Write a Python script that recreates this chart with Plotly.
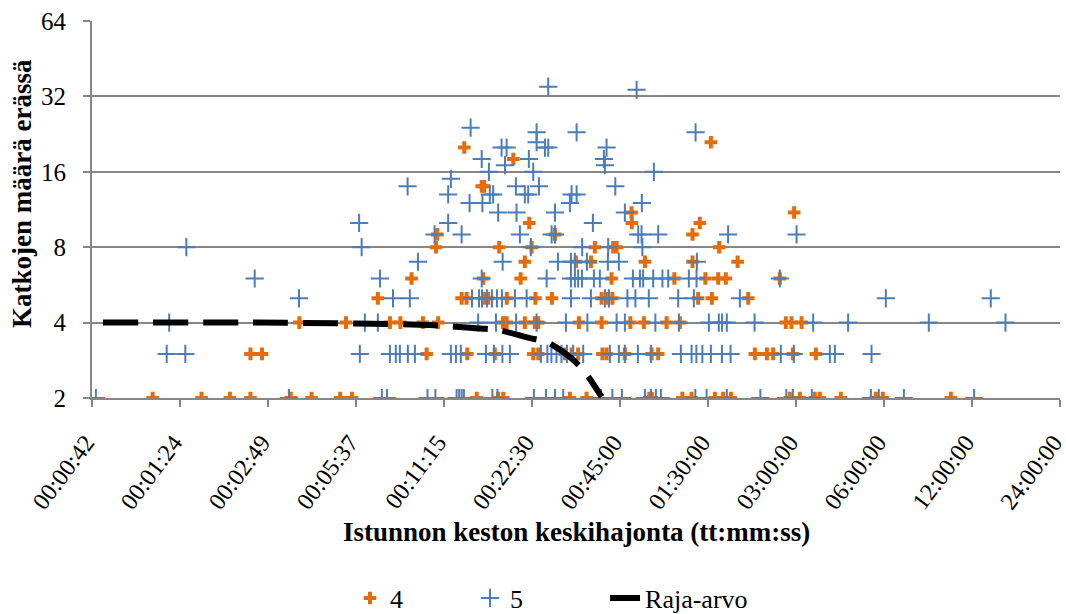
import plotly.graph_objects as go

# ---------------- data ----------------
# x: session duration standard deviation in seconds, y: number of breaks per batch
s4_x = [68, 100, 125, 147, 202, 238, 298, 327, 874, 1035, 1077, 1821, 2076, 3402, 3475, 4417, 4749, 5708, 6091, 6475, 10298, 11146, 12539, 13046, 15390, 20272, 21427, 36612,
        147, 161, 589, 811, 1008, 1364, 1419, 1751, 1845, 1943, 2353, 2431, 2808, 3467, 3651, 7819, 8597, 9029, 10546, 12647,
        216, 312, 441, 479, 572, 645, 1075, 1106, 1277, 1382, 1419, 1955, 2338, 2932, 3262, 3901, 4331, 9979, 10431, 11297,
        401, 776, 807, 932, 956, 1108, 1388, 1581, 2338, 2456, 2545, 5001, 5573, 7420,
        523, 920, 1235, 2528, 4147, 5295, 5859, 6221, 9520,
        1277, 1909, 2149, 3289, 4785, 6826,
        634, 1043, 1347, 2217, 2561, 2631, 5903,
        640, 1619, 4785,
        1322, 2967, 5068,
        2960, 10654,
        909, 927,
        1166,
        792,
        5529]
s4_y = ([2] * 28 + [3] * 20 + [4] * 20 + [5] * 14 + [6] * 9 + [7] * 6 + [8] * 7 + [9] * 3 + [10] * 3
        + [11] * 2 + [14] * 2 + [18] + [20] + [21])

s5_x = [43.5, 199, 414, 431, 593, 631, 746, 761, 776, 790, 989, 1029, 1371, 1508, 1619, 1727, 2325, 2545, 2743, 3289, 3448, 3586, 3729, 4892, 5346, 6269, 8165, 10017, 10546, 12247, 19505, 20758, 25294, 44000,
        76, 88, 348, 441, 462, 477, 508, 537, 713, 742, 771, 940, 1001, 1070, 1135, 1449, 1525, 1574, 1638, 1704, 1779, 1869, 2022, 2495, 2678, 2808, 3111, 3448, 4366, 4749, 4932, 5171, 5529, 6032, 6458, 9596, 10627, 14116, 14688, 19602,
        77.5, 362, 401, 884, 1017, 1192, 1401, 1765, 2090, 2631, 2808, 3571, 4299, 5443, 5886, 6039, 6269, 7801, 12378, 16303, 30781, 56330,
        215.5, 452, 516, 842, 890, 911, 947, 985, 1025, 1066, 1181, 1295, 1836, 2149, 2399, 2476, 2865, 3051, 3391, 4274, 4836, 6950, 21946, 50155,
        152, 408, 909, 1516, 1836, 1894, 1943, 2002, 2200, 2306, 2992, 3162, 3243, 3510, 3775, 3950, 4649, 4938, 9520,
        550, 1072, 1657, 1836, 1894, 2082, 2456, 2678, 4952,
        88.7, 353, 1339, 2006, 2462, 3223,
        627, 776, 1228, 1577, 1619, 3119, 3202, 3651, 6334, 10860,
        346, 698, 2183,
        1035, 1196, 1619, 2808,
        826, 914, 1821, 3210,
        698, 969, 995, 1277, 1311, 1845, 1920,
        507, 1190, 1427, 2604,
        713,
        962, 1364, 3529,
        1092, 2399,
        909, 1318, 2380,
        1063, 1106, 1496, 1535, 2431,
        1401,
        1401, 1920, 4901,
        833,
        3080,
        1535]
s5_y = ([2] * 34 + [3] * 40 + [4] * 22 + [5] * 24 + [6] * 19 + [7] * 9 + [8] * 6 + [9] * 10 + [10] * 3
        + [11] * 4 + [12] * 4 + [13] * 7 + [14] * 4 + [15] + [16] * 3 + [17] * 2 + [18] * 3 + [20] * 5
        + [21] + [23] * 3 + [24] + [34] + [35])

raja_x = [46, 150, 337, 604, 896, 1043, 1328, 1516, 1845, 2049, 2338]
raja_y = [4.0, 4.0, 3.97, 3.91, 3.79, 3.73, 3.47, 3.35, 2.88, 2.54, 2.02]

x_tickvals = [42.1875, 84.375, 168.75, 337.5, 675, 1350, 2700, 5400, 10800, 21600, 43200, 86400]
x_ticktext = ["00:00:42", "00:01:24", "00:02:49", "00:05:37", "00:11:15", "00:22:30",
              "00:45:00", "01:30:00", "03:00:00", "06:00:00", "12:00:00", "24:00:00"]
y_tickvals = [2, 4, 8, 16, 32, 64]
y_ticktext = ["2", "4", "8", "16", "32", "64"]

FONT = "Liberation Serif, Times New Roman, Times, serif"
GRID = "#878787"
FS = 25
LEG_Y = 0.026

fig = go.Figure()
fig.add_trace(go.Scatter(
    x=s4_x, y=s4_y, mode="markers", name="4", legend="legend",
    marker=dict(symbol="cross-thin", size=9, color="#E46C0A",
                line=dict(color="#E46C0A", width=4))))
fig.add_trace(go.Scatter(
    x=s5_x, y=s5_y, mode="markers", name="5", legend="legend2",
    marker=dict(symbol="cross-thin", size=13, color="#4A7EBB",
                line=dict(color="#4A7EBB", width=2))))
fig.add_trace(go.Scatter(
    x=raja_x, y=raja_y, mode="lines", name="Raja-arvo", legend="legend3",
    line=dict(color="black", width=6, dash="35px,15px", shape="spline", smoothing=0.8)))

leg_common = dict(orientation="h", xanchor="left", yref="container", y=LEG_Y, yanchor="middle",
                  font=dict(family=FONT, size=26), itemsizing="trace", bgcolor="rgba(0,0,0,0)")

fig.update_layout(
    width=1066, height=614,
    margin=dict(l=92, r=6, t=21, b=216),
    paper_bgcolor="white", plot_bgcolor="white",
    font=dict(family=FONT, size=FS, color="black"),
    showlegend=True,
    legend=dict(x=0.2665, **leg_common),
    legend2=dict(x=0.3905, **leg_common),
    legend3=dict(x=0.530, **leg_common),
    xaxis=dict(type="log", range=[1.62518, 4.9372],
               tickvals=x_tickvals, ticktext=x_ticktext, tickangle=-53,
               ticks="outside", ticklen=7, tickwidth=2, tickcolor=GRID,
               ticklabelstandoff=12, ticklabelshift=-6, ticklabeloverflow="allow",
               showline=True, linecolor=GRID, linewidth=2,
               showgrid=False, zeroline=False, automargin=False,
               tickfont=dict(family=FONT, size=24, color="black")),
    yaxis=dict(type="log", range=[0.30103, 1.80618],
               tickvals=y_tickvals, ticktext=y_ticktext,
               ticks="outside", ticklen=7, tickwidth=2, tickcolor=GRID,
               ticklabelstandoff=12,
               showline=True, linecolor=GRID, linewidth=2, automargin=False,
               showgrid=True, gridcolor=GRID, gridwidth=2, zeroline=False,
               tickfont=dict(family=FONT, size=FS, color="black")),
    annotations=[
        dict(text="<b>Istunnon keston keskihajonta (tt:mm:ss)</b>", xref="paper", yref="paper",
             x=0.501, y=-0.3565, xanchor="center", yanchor="middle", showarrow=False,
             font=dict(family=FONT, size=27, color="black")),
        dict(text="<b>Katkojen määrä erässä</b>", xref="paper", yref="paper",
             x=-0.0723, y=0.541, xanchor="center", yanchor="middle", showarrow=False,
             textangle=-90, font=dict(family=FONT, size=27, color="black")),
    ],
)

fig.write_html("out.html")
